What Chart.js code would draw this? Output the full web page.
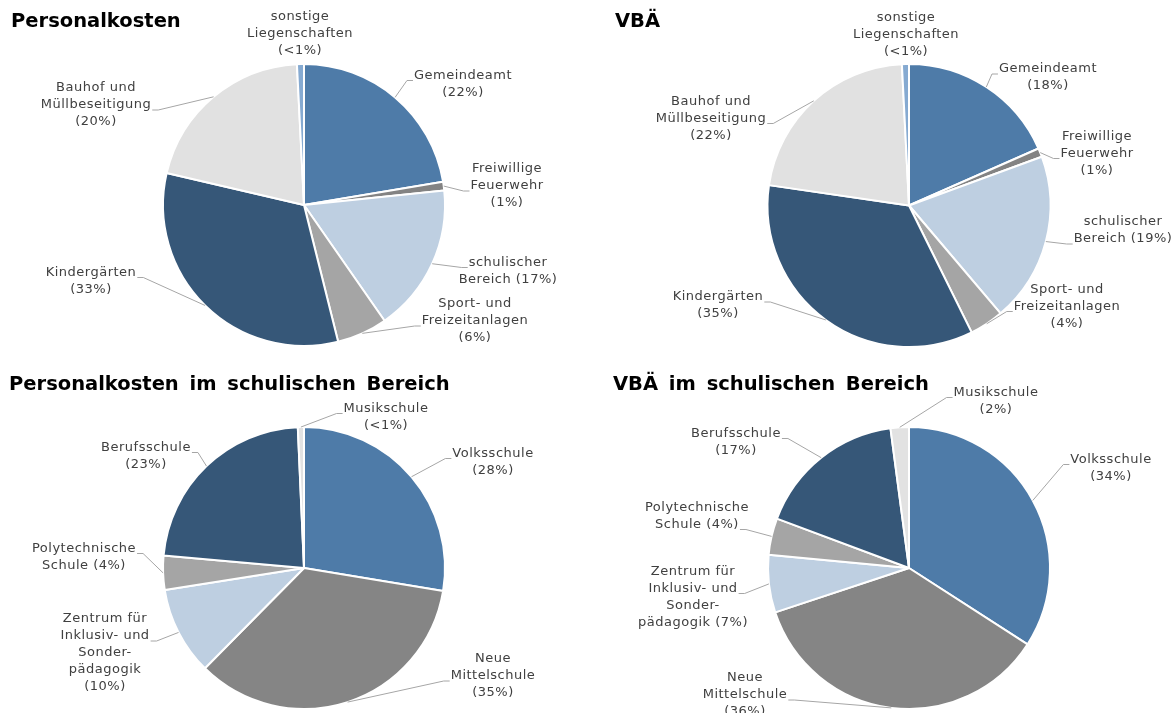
<!DOCTYPE html>
<html>
<head>
<meta charset="utf-8">
<script src="https://cdn.jsdelivr.net/npm/chart.js@4"></script>
<style>
  body { margin: 0; background: #fff; }
  .box { position: absolute; }
</style>
</head>
<body>
<div class="box" style="left:0;top:0"><canvas id="c1" width="587" height="360"></canvas></div>
<div class="box" style="left:587px;top:0"><canvas id="c2" width="587" height="360"></canvas></div>
<div class="box" style="left:0;top:360px"><canvas id="c3" width="587" height="353"></canvas></div>
<div class="box" style="left:587px;top:360px"><canvas id="c4" width="587" height="353"></canvas></div>
<script>
// categories
const bereiche = ['Gemeindeamt', 'Freiwillige Feuerwehr', 'schulischer Bereich', 'Sport- und Freizeitanlagen',
                  'Kindergärten', 'Bauhof und Müllbeseitigung', 'sonstige Liegenschaften'];
const schulen  = ['Volksschule', 'Neue Mittelschule', 'Zentrum für Inklusiv- und Sonderpädagogik',
                  'Polytechnische Schule', 'Berufsschule', 'Musikschule'];

// shares in percent
const personalkosten = [22.4, 1.0, 17.0, 5.8, 32.6, 20.6, 0.8];
const vbae           = [18.4, 1.0, 19.4, 3.9, 34.6, 21.9, 0.8];
const personalSchule = [27.6, 34.8, 10.1, 3.9, 22.9, 0.7];
const vbaeSchule     = [34.1, 35.8, 6.6, 4.2, 17.2, 2.1];

// label texts as printed, line by line
const personalLabels = [
  ['Gemeindeamt', '(22%)'], ['Freiwillige', 'Feuerwehr', '(1%)'], ['schulischer', 'Bereich (17%)'],
  ['Sport- und', 'Freizeitanlagen', '(6%)'], ['Kindergärten', '(33%)'], ['Bauhof und', 'Müllbeseitigung', '(20%)'],
  ['sonstige', 'Liegenschaften', '(<1%)']
];
const vbaeLabels = [
  ['Gemeindeamt', '(18%)'], ['Freiwillige', 'Feuerwehr', '(1%)'], ['schulischer', 'Bereich (19%)'],
  ['Sport- und', 'Freizeitanlagen', '(4%)'], ['Kindergärten', '(35%)'], ['Bauhof und', 'Müllbeseitigung', '(22%)'],
  ['sonstige', 'Liegenschaften', '(<1%)']
];
const personalSchuleLabels = [
  ['Volksschule', '(28%)'], ['Neue', 'Mittelschule', '(35%)'],
  ['Zentrum für', 'Inklusiv- und', 'Sonder-', 'pädagogik', '(10%)'], ['Polytechnische', 'Schule (4%)'],
  ['Berufsschule', '(23%)'], ['Musikschule', '(<1%)']
];
const vbaeSchuleLabels = [
  ['Volksschule', '(34%)'], ['Neue', 'Mittelschule', '(36%)'],
  ['Zentrum für', 'Inklusiv- und', 'Sonder-', 'pädagogik (7%)'], ['Polytechnische', 'Schule (4%)'],
  ['Berufsschule', '(17%)'], ['Musikschule', '(2%)']
];

const colorsBereich = ['#4E7BA8', '#838383', '#BECFE1', '#A5A5A5', '#365778', '#E1E1E1', '#86AAD1'];
const colorsSchule  = ['#4E7BA8', '#858585', '#BECFE1', '#A5A5A5', '#365778', '#E2E2E2'];

// where each label block sits, relative to the pie centre, and which line the leader joins (-1 = none)
const placeP  = [[159, -121], [203, -19], [204, 66], [171, 116], [-213, 76], [-208, -100], [-4, -171]];
const joinP   = [0, 1, 0, 1, 0, 1, -1];
const placeV  = [[139, -128], [188, -52], [214, 25], [158, 101], [-191, 100], [-198, -87], [-3, -171]];
const joinV   = [0, 1, 1, 1, 0, 1, -1];
const placePS = [[189, -106], [189, 108], [-199, 85], [-220, -11], [-158, -112], [82, -151]];
const joinPS  = [0, 1, 1, 0, 0, 0];
const placeVS = [[202, -100], [-164, 127], [-216, 29], [-212, -52], [-173, -126], [87, -167]];
const joinVS  = [0, 1, 1, 1, 0, 0];

const LABEL_FONT = '13px "DejaVu Sans"';
const LINE_H = 17;

const outLabels = {
  id: 'outLabels',
  afterDatasetsDraw(chart, args, opts) {
    const ctx = chart.ctx;
    const arcs = chart.getDatasetMeta(0).data;
    ctx.save();
    ctx.font = LABEL_FONT;
    ctx.letterSpacing = '0.5px';
    ctx.textAlign = 'center';
    ctx.textBaseline = 'middle';
    arcs.forEach((arc, i) => {
      const lines = opts.lines[i];
      const cx = arc.x + opts.place[i][0];
      const cy = arc.y + opts.place[i][1];
      const top = cy - lines.length * LINE_H / 2;
      const j = opts.join[i];
      if (j >= 0) {
        const mid = (arc.startAngle + arc.endAngle) / 2;
        const ax = arc.x + Math.cos(mid) * arc.outerRadius;
        const ay = arc.y + Math.sin(mid) * arc.outerRadius;
        const w = ctx.measureText(lines[j]).width;
        const ly = top + LINE_H * j + LINE_H / 2 + 5;
        const right = cx > arc.x;
        const ex = right ? cx - w / 2 - 1 : cx + w / 2 + 1;
        const bx = right ? ex - 6 : ex + 6;
        ctx.beginPath();
        ctx.strokeStyle = '#A6A6A6';
        ctx.lineWidth = 1;
        ctx.moveTo(ax, ay);
        ctx.lineTo(bx, ly);
        ctx.lineTo(ex, ly);
        ctx.stroke();
      }
      ctx.fillStyle = '#404040';
      lines.forEach((t, k) => ctx.fillText(t, cx, top + LINE_H * k + LINE_H / 2));
    });
    // chart title
    ctx.font = 'bold 19.5px "DejaVu Sans"';
    ctx.letterSpacing = '0px';
    ctx.wordSpacing = '4px';
    ctx.fillStyle = '#000';
    ctx.textAlign = 'left';
    ctx.fillText(opts.title, opts.titleX, opts.titleY);
    ctx.restore();
  }
};

function PieChart(dst, labels, data, colors, lines, place, join, title, titleX, titleY, padding) {
  const ctx = document.getElementById(dst).getContext('2d');
  return new Chart(ctx, {
    type: 'pie',
    data: {
      labels: labels,
      datasets: [{
        data: data,
        backgroundColor: colors,
        borderColor: '#ffffff',
        borderWidth: 2
      }]
    },
    options: {
      responsive: false,
      animation: false,
      layout: { padding: padding },
      plugins: {
        legend: { display: false },
        tooltip: { enabled: false },
        outLabels: { lines: lines, place: place, join: join, title: title, titleX: titleX, titleY: titleY }
      }
    },
    plugins: [outLabels]
  });
}

PieChart('c1', bereiche, personalkosten, colorsBereich, personalLabels, placeP, joinP,
         'Personalkosten', 11, 22, { left: 162, right: 141, top: 63, bottom: 13 });
PieChart('c2', bereiche, vbae, colorsBereich, vbaeLabels, placeV, joinV,
         'VBÄ', 28, 22, { left: 179, right: 122, top: 63, bottom: 12 });
PieChart('c3', schulen, personalSchule, colorsSchule, personalSchuleLabels, placePS, joinPS,
         'Personalkosten im schulischen Bereich', 9, 25, { left: 162, right: 141, top: 66, bottom: 3 });
PieChart('c4', schulen, vbaeSchule, colorsSchule, vbaeSchuleLabels, placeVS, joinVS,
         'VBÄ im schulischen Bereich', 26, 25, { left: 180, right: 123, top: 66, bottom: 3 });
</script>
</body>
</html>
